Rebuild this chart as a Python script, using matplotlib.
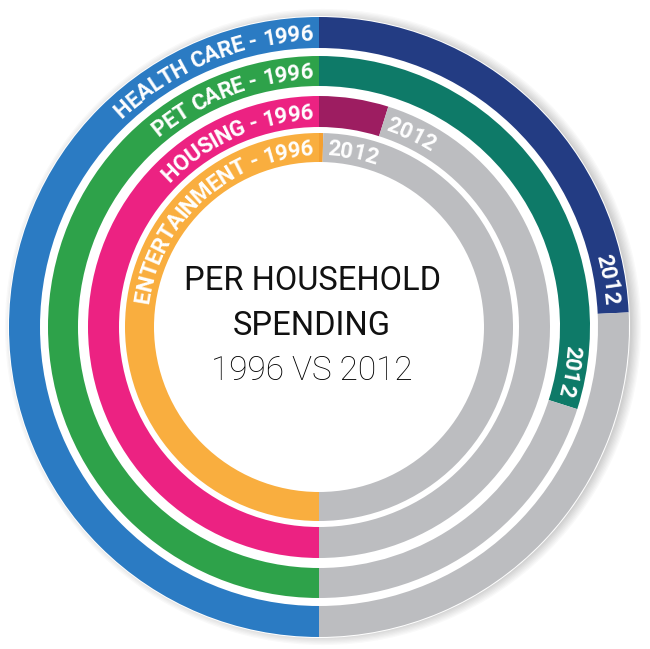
import numpy as np
import matplotlib
matplotlib.use("Agg")
import matplotlib.pyplot as plt
from matplotlib.patches import Wedge, Circle
from matplotlib.font_manager import FontProperties
from matplotlib.textpath import TextToPath

# spending data (2012 shown relative to 1996 = 100, 1996 fills half the ring)
categories = ["HEALTH CARE", "PET CARE", "HOUSING", "ENTERTAINMENT"]
spend_1996 = [100, 100, 100, 100]
spend_2012 = [48.5, 59.8, 9.7, 0.7]
year_a, year_b = "1996", "2012"

colors_1996 = ["#2b7bc3", "#2ea24a", "#ec2282", "#f9ae3f"]
colors_2012 = ["#233c83", "#0e7a68", "#9d1d61", "#f4a031"]
gray = "#bcbdc0"

# ring geometry in pixels (outer radius, width)
cx, cy = 319, 649 - 327
rings = [(310, 31), (271, 30), (231, 31), (194, 29)]

FAMILY = ["Roboto", "DejaVu Sans"]
PX = 100 / 72.0
ttp = TextToPath()


def text_w(s, fp):
    if not s:
        return 0.0
    return ttp.get_text_width_height_descent(s, fp, ismath=False)[0] * PX


def arc_text(ax, s, r_mid, ang, fs, align, color="white"):
    # characters laid out clockwise along the arc, tops pointing outward
    fp = FontProperties(family=FAMILY, weight="bold", size=fs)
    widths = [text_w(s[:i], fp) for i in range(len(s) + 1)]
    total = widths[-1]
    cap = 0.711 * fs * PX
    r_base = r_mid - cap / 2
    start = ang + np.degrees(total / r_mid) if align == "end" else ang
    for i, ch in enumerate(s):
        if ch == " ":
            continue
        c = (widths[i] + widths[i + 1]) / 2
        th = start - np.degrees(c / r_mid)
        t = np.radians(th)
        ax.text(cx + r_base * np.cos(t), cy + r_base * np.sin(t), ch,
                rotation=th - 90, rotation_mode="anchor", ha="center",
                va="baseline", fontproperties=fp, color=color)


fig = plt.figure(figsize=(6.5, 6.49), dpi=100)
ax = fig.add_axes([0, 0, 1, 1])
ax.set_xlim(0, 650)
ax.set_ylim(0, 649)
ax.axis("off")

# soft drop shadow to the right
for k in range(8):
    ax.add_patch(Circle((cx + 4, cy), 309 + k * 1.3, color="black",
                        alpha=0.022, lw=0, zorder=0))
ax.add_patch(Circle((cx, cy), 311, color="white", lw=0, zorder=1))

for i, cat in enumerate(categories):
    r_out, w = rings[i]
    r_mid = r_out - w / 2
    ang = 180 * spend_2012[i] / spend_1996[i]
    ax.add_patch(Wedge((cx, cy), r_out, 90, 270, width=w, color=colors_1996[i], lw=0, zorder=2))
    ax.add_patch(Wedge((cx, cy), r_out, 90 - ang, 90, width=w, color=colors_2012[i], lw=0, zorder=2))
    ax.add_patch(Wedge((cx, cy), r_out, -90, 90 - ang, width=w, color=gray, lw=0, zorder=2))

    arc_text(ax, f"{cat} - {year_a}", r_mid, 90 + np.degrees(6 / r_mid), 16, "end")
    if ang > 40:
        arc_text(ax, year_b, r_mid, 90 - ang + np.degrees(9 / r_mid), 16, "end")
    else:
        arc_text(ax, year_b, r_mid, 90 - ang - np.degrees(5 / r_mid), 16, "start")

ax.text(cx - 7, 649 - 281, "PER HOUSEHOLD", ha="center", va="center",
        fontsize=23.5, family=FAMILY, color="#111111")
ax.text(cx - 7, 649 - 326, "SPENDING", ha="center", va="center",
        fontsize=23.5, family=FAMILY, color="#111111")
ax.text(cx - 7, 649 - 371, f"{year_a} VS {year_b}", ha="center", va="center",
        fontsize=24, family=FAMILY, fontweight="light", color="#000000")

fig.savefig("out.png", dpi=100, facecolor="white")
